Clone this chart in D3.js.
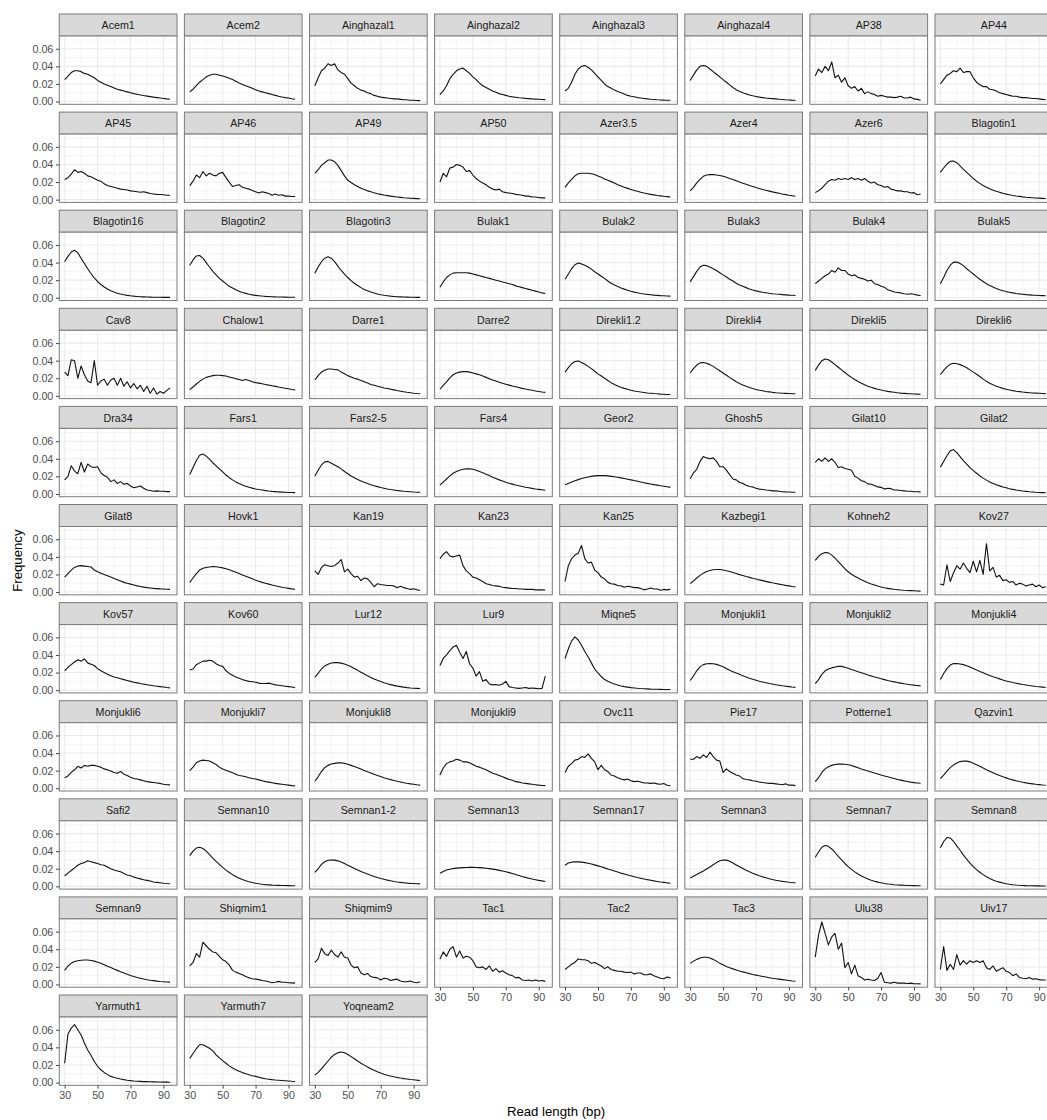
<!DOCTYPE html>
<html>
<head>
<meta charset="utf-8">
<script src="https://cdn.jsdelivr.net/npm/d3@7"></script>
<style>
  body { margin: 0; background: #fff; }
  svg { display: block; font-family: "Liberation Sans", Arial, Helvetica, sans-serif; }
</style>
</head>
<body>
<div id="chart"></div>
<script>

// ---- data ----
var samples = [
  "Acem1","Acem2","Ainghazal1","Ainghazal2","Ainghazal3","Ainghazal4","AP38","AP44",
  "AP45","AP46","AP49","AP50","Azer3.5","Azer4","Azer6","Blagotin1",
  "Blagotin16","Blagotin2","Blagotin3","Bulak1","Bulak2","Bulak3","Bulak4","Bulak5",
  "Cav8","Chalow1","Darre1","Darre2","Direkli1.2","Direkli4","Direkli5","Direkli6",
  "Dra34","Fars1","Fars2-5","Fars4","Geor2","Ghosh5","Gilat10","Gilat2",
  "Gilat8","Hovk1","Kan19","Kan23","Kan25","Kazbegi1","Kohneh2","Kov27",
  "Kov57","Kov60","Lur12","Lur9","Miqne5","Monjukli1","Monjukli2","Monjukli4",
  "Monjukli6","Monjukli7","Monjukli8","Monjukli9","Ovc11","Pie17","Potterne1","Qazvin1",
  "Safi2","Semnan10","Semnan1-2","Semnan13","Semnan17","Semnan3","Semnan7","Semnan8",
  "Semnan9","Shiqmim1","Shiqmim9","Tac1","Tac2","Tac3","Ulu38","Uiv17",
  "Yarmuth1","Yarmuth7","Yoqneam2"
];

// read lengths (bp) at which each frequency below is given
var readLengths = [30,32,34,36,38,40,42,44,46,48,50,52,54,56,58,60,62,64,66,68,70,72,74,76,78,80,82,84,86,88,90,92,94];
var readLengthSpan = [30, 95];

var xTicks = [30, 50, 70, 90];
var xMinor = [40, 60, 80];
var yTicks = [0, 0.02, 0.04, 0.06];
var yMinor = [0.01, 0.03, 0.05, 0.07];

// frequency in per mille, one row per sample (same order as samples)
var freq = [
  [25,29,33,35,35,34,32,31,29,27,24,22,20,18.5,17,15.5,14,13,12,11,10,9,8.3,7.5,6.8,6.2,5.6,5,4.5,4,3.5,3,2.6],
  [11,14,18,22,25,28,30,31,31,30,29,28,26.5,25,23,21,19.5,18,16.5,15,13.5,12,11,10,9,8,7,6,5.2,4.5,4,3.2,2.7],
  [18,27,35,38,43,41,43,36,33,31,26,21,18,15,13,12,10,9,7,6,5,4.5,4,3.5,3,3,2.5,2,2,1.5,1.5,1.2,1],
  [8,12,18,26,31,35,37,38,35,32,28,25,21,18,16,14,12,10.5,9,8,7,6,5.3,4.8,4.3,4,3.6,3.3,3,2.8,2.6,2.4,2.2],
  [12,15,22,31,37,40,41,39,36,32,28,24,20,17,15,13,11.5,10,8.5,7,6,5.5,4.5,4,3.5,3,2.6,2.3,2,1.8,1.6,1.5,1.4],
  [24,30,36,40,41,40,37,34,31,28,25,22,19,16,13.5,11.5,10,8.7,7.5,6.5,5.8,5,4.5,4,3.6,3.3,3,2.6,2.3,2,1.8,1.6,1.5],
  [29,37,33,40,35,45,27,30,22,27,18,15,17,12,15,9,11,9,8,6,7,6,5,5,4.5,5,6,4,4,5,3,2.5,1.5],
  [20,25,30,32,35,34,38,33,34,34,27,22,19,17,17,14,13.5,12,10,9,8,7,6,6,5,4.5,4.5,4,3.5,3.5,3,2.5,2],

  [23,25,29,34,31,32,30,27,26,24,22,21,18,16,15,14,13,12,11.5,11,10,9.5,9,8.5,9,8,7,6.5,6,5.8,5.5,5,5],
  [16,21,28,25,32,27,30,28,27,30,31,25,20,15,16,17,14,13,12,10.5,9,7.5,9,8,7,5,6.5,5,5.5,4,4,3.5,3.5],
  [30,34,39,42,45,45,43,39,33,27,22,19.5,17,15,13,11.5,10,9,7.8,6.8,6,5.2,4.6,4,3.4,3,2.6,2.2,1.9,1.6,1.4,1.2,1],
  [20,30,26,36,37,40,39,37,32,33,28,24,21,19,17,14,12,11,12,9,8,7.5,7,6,5.5,5,4,4,3,3,2.5,2,2],
  [14,19,23,27,29.5,30,30,30,29.5,28.5,27,25.5,23.5,22,20.5,19,17,15.5,14,12.8,11.5,10.5,9.5,8.5,7.6,6.8,6,5.4,4.8,4.3,3.8,3.4,3],
  [10,14,19,23,26.5,28,28.5,28.5,28,27.5,26.5,25.5,24,23,21.5,20,18.7,17.5,16,15,13.8,12.7,11.6,10.6,9.7,8.8,8,7.2,6.4,5.7,5,4.4,3.8],
  [8,10,13,17,21,23,22,24,23,24,23,25,23,24,22,24,21,19,20,17,16,14,15,12,11,10,10,9,9,7.5,8,5.5,6.5],
  [31,36,40.5,43.5,44,42,38.5,34.5,31,27.5,24,21,18.5,16,14,12.3,10.8,9.5,8.3,7.2,6.3,5.5,4.8,4.2,3.7,3.2,2.8,2.5,2.2,1.9,1.7,1.5,1.3],

  [41,47,52,54,51,45,39,33,27.5,22.5,18.5,15,12.3,10,8,6.5,5.2,4.2,3.4,2.7,2.2,1.8,1.5,1.2,1,0.8,0.7,0.6,0.5,0.5,0.4,0.4,0.4],
  [37,43,47.5,48,45,40,35,30,26,22,19,16,13,11,9,7.5,6,5,4,3.3,2.7,2.3,1.9,1.6,1.4,1.2,1,0.9,0.8,0.7,0.6,0.6,0.5],
  [28,35,41,45,46.5,45,41,36,31,27,23,19.5,16.5,14,11.5,9.5,8,6.5,5.3,4.3,3.5,2.8,2.3,1.8,1.5,1.2,1,0.8,0.7,0.6,0.5,0.4,0.4],
  [12,18,23,26,28,28.5,28.5,28.5,28.5,28,27,26,25,24,23,22,21,20,19,18,17,16,15,13.5,12.5,11.5,10.5,9.5,8.5,7.5,6.5,5.5,4.8],
  [21,27,33,37.5,39.5,38.5,37,35,32.5,29.5,27,24.5,22,19,16.5,14.5,12.8,11.2,9.8,8.5,7.4,6.4,5.6,4.9,4.3,3.8,3.4,3,2.7,2.4,2.2,2,1.9],
  [18,24,30,35,37,36.5,35,33,31,28.5,26,23.5,21,19,16.5,14.5,13,11.5,10,8.8,7.8,7,6.3,5.7,5.1,4.6,4.2,3.9,3.6,3.3,3,2.8,2.6],
  [16,19,22,25,27,31,29,34,31,31,27,25,26,23,22,21,19,20,16,15,13,12,9,8,6.5,6,5.5,4.5,4,4.5,4,3,2.6],
  [16,23,31,37,40.5,40.5,39,36.5,33,30,27,24,21,18.5,16,14,12.2,10.6,9.2,8,7,6.2,5.5,4.9,4.4,4,3.6,3.3,3,2.8,2.6,2.4,2.2],

  [27,23,41,40,20,34,24,17,15,40,12,17,19,12,18,20,12,20,11,16,9,14,8,12,5,11,3,9,2,5,3,6,9],
  [7,10,13.5,16.5,19,21,22,23,23.5,23.5,23,22.5,21.5,20.5,19.5,18.5,17.5,18.5,17.5,16,15,14.5,13.8,13,12.2,11.5,10.8,10,9.3,8.6,8,7.3,6.8],
  [18,23,27,29,30.5,30.5,30,29.5,27,25,23,21.5,20,19,17.5,16,14.5,13,12,11,10,9,8.3,7.6,6.8,6,5.3,4.6,4,3.5,3,2.6,2.3],
  [7.5,12,16,20.5,24,26,27,27.5,27.5,27,26,25,24,22.5,21,19.5,18,16.8,15.5,14.3,13.2,12.2,11.2,10.3,9.4,8.5,7.7,7,6.3,5.6,5,4.4,3.9],
  [27,32,36.5,39,39.5,38,36,33.5,31,28,25,22.5,20,17.5,15,13,11.3,9.8,8.5,7.4,6.4,5.6,4.9,4.3,3.8,3.3,3,2.6,2.3,2,1.8,1.6,1.5],
  [26,31,35,37.5,38,37,35.5,33.5,31,28.5,26,23.5,21,18.5,16,14,12.3,10.8,9.5,8.3,7.3,6.4,5.7,5,4.5,4,3.6,3.3,3,2.8,2.6,2.4,2.3],
  [29,35,40,42,41,38.5,35.5,32.5,29.5,26.5,23.5,21,18.5,16.3,14.3,12.5,11,9.7,8.5,7.5,6.6,5.8,5.1,4.5,4,3.5,3.1,2.8,2.5,2.3,2.1,2,1.9],
  [24,29,33,36,37,36.5,35.5,34,32,29.5,27,24.5,22,19,16.5,14.3,12.5,11,9.7,8.5,7.5,6.6,5.9,5.3,4.8,4.3,3.9,3.6,3.3,3.1,2.9,2.7,2.5],

  [16,20,32,26,23,36,25,34,31,30,31,24,21,19,14,16,12,14,11,12,9,7,8,9,6.5,4.5,4,3,3.5,3,3,2.6,2.6],
  [22,30,38,44,45.5,43,39.5,35.5,32,28.5,25,21.5,18.5,16,13.7,11.8,10.2,8.8,7.6,6.6,5.7,5,4.4,3.8,3.3,2.9,2.6,2.3,2.1,1.9,1.7,1.6,1.5],
  [20,27,33,36.5,37,35,33,31,28.5,25.5,23,20.5,18.5,16.5,14.8,13.2,11.8,10.5,9.3,8.3,7.3,6.5,5.7,5,4.5,4,3.5,3.1,2.8,2.5,2.2,2,1.9],
  [10,13.5,17,20.5,23.5,25.5,27,28,28.5,28.5,28,27,25.5,24,22.5,21,19,17.5,16,14.7,13.4,12.2,11.2,10.2,9.3,8.5,7.7,7,6.3,5.7,5.2,4.7,4.2],
  [10.5,12,13.5,15,16.3,17.5,18.5,19.3,20,20.5,20.8,21,20.8,20.5,20,19.5,19,18.3,17.6,16.8,16,15.2,14.4,13.6,12.8,12,11.3,10.6,10,9.3,8.7,8.1,7.5],
  [17,24,28,37,42.5,41,40,41,37,31,31,27,22,17,16,13,12,10,8.5,8,6.5,5.5,5,4.5,4.2,3.5,3.5,3,2.5,2.3,2.2,2,1.9],
  [36,40,37,41,37,40,36,30,31,29,28,27,20,18,15,14,11.5,11,9.5,8,7.5,5.5,6.5,6,4.5,4.5,4,3.5,3,3,2.5,2.5,2.3],
  [30.5,37,43.5,49,50.5,47,42.5,38,34,30,26.5,23.5,20.5,18,15.7,13.7,12,10.5,9.2,8,7,6,5.2,4.5,3.9,3.3,2.9,2.5,2.2,1.9,1.7,1.5,1.3],

  [17,21,25,28,29.5,30,29.5,29,28.5,25,23,21.5,20,18.5,17,15.5,14,12.5,11,10,9,8,7,6.3,5.6,5,4.6,4.2,3.9,3.6,3.4,3.2,3],
  [11,16,21,25,27,28,28.5,29,28.7,28.2,27.5,26.5,25.3,24,22.5,21,19.5,18,16.5,15,13.5,12.2,11,10,9,8,7.1,6.3,5.5,4.8,4.2,3.6,3.1],
  [24,20,28,31,30,29,30,33,37,23,26,21,17,18,13,16,15,11,6,9.5,8.5,8,7.5,7.5,7,5,6.5,5,4,3,3.8,2.5,2],
  [38,43,46,41,40,41,42,30,24,21,17,16,14,12,9.5,8.5,7.5,7,6.5,5.5,5,4.5,4,4,3.5,3.5,3,3,3,2.5,2.5,2.5,2.3],
  [12,30,38,42,44,53,38,33,34,25,22,17,15,11,9.5,9,7.5,7,5.5,6.5,6,5,5,4,2.5,3.5,4.5,3.5,3.5,2,3,2.5,3],
  [9.5,12.5,16,19,21.5,23.3,24.5,25.3,25.7,25.6,25,24.2,23.3,22.2,21,19.8,18.8,17.7,16.7,15.7,14.8,13.8,13,12.1,11.3,10.5,9.8,9,8.3,7.6,7,6.3,5.7],
  [36,40.5,43.5,45,44.5,42,38.5,34.5,30.5,26.5,23,20.3,18,16,14,12.3,10.7,9.2,8,6.8,5.8,4.9,4.2,3.6,3.1,2.7,2.3,2,1.8,1.6,1.4,1.2,1.1],
  [9,8,31,12,22,30,26,33,27,22,35,23,36,20,55,24,28,17,19,13,14,11,12,8,10,9,7,8,9,6,8,5,6],

  [22,26,29,32,34.5,33,35.5,31,29.5,28,24.5,22,20,18,16.5,15,14,13,12,11,10,9,8.3,7.5,6.8,6.2,5.6,5,4.5,4,3.5,3,2.6],
  [23,24,29,31,33,33,34,33,30,28,27,22,19,17,15,13.5,12,11,10,9.5,9,8,7.5,7.5,8,7,6,5.5,5,4.5,4,3.5,2.7],
  [14.5,19,24,27.5,29.5,30.8,31.3,31.3,30.7,29.7,28.3,26.5,24.5,22.5,20.3,18.3,16.3,14.5,12.8,11.2,9.8,8.5,7.3,6.3,5.4,4.6,4,3.4,2.9,2.5,2.2,2,1.8],
  [28,36,40,45,49,51,43,36,44,30,25,16,21,10,12,7,6,6.5,5.5,7,10,4,3,2.5,2,2.5,3,2,2.5,2,1.5,2,16],
  [36,47,56,60.5,57,51,44,38,31,24,19.5,15.5,12,10,8.3,6.9,5.8,4.8,4,3.4,2.9,2.5,2.1,1.8,1.6,1.4,1.2,1.1,1,0.9,0.8,0.8,0.7],
  [11,16,22,26.5,29,30,30.2,30,29.3,28,26.5,24.5,22.5,21,19.5,18,16.5,15,13.6,12.3,11.2,10.1,9.2,8.4,7.6,6.9,6.2,5.6,5,4.5,4,3.5,3.1],
  [7.5,12,18,22,24,25.3,26.3,27,27,26,24.8,23.5,22.3,21,19.8,18.6,17.3,16.2,15,14,13,12,11,10.2,9.4,8.6,8,7.3,6.7,6.2,5.7,5.3,4.9],
  [12,19,24.5,28.5,30.2,30.3,29.8,29,27.8,26.2,24.5,22.8,21.2,19.7,18.2,16.7,15.2,14,12.8,11.6,10.5,9.6,8.7,7.9,7.1,6.4,5.8,5.2,4.7,4.2,3.8,3.4,3],

  [12,14,18,21,25,23,26,25,26,26,25,24,22,21,19.5,18,17,19,16,14.5,12.5,11,10.5,9.5,8.5,7.5,7,6.5,6,5.5,4.5,4,3.8],
  [20,24,29,31,32,31.5,31,29,27,24,22,20.5,19,17.5,16,14.5,14,13,12,11,10.5,9.5,8.5,7.5,7,6.3,5.5,5,4.5,4,3.5,3,2.7],
  [8,13,19,23.5,26,27.5,28.3,28.8,29,28.3,27.3,26,24.7,23.3,21.8,20.3,18.8,17.4,16,14.6,13.3,12,10.9,9.8,8.8,7.9,7.1,6.3,5.6,5,4.5,4,3.6],
  [15,23,28,30,31,33,32,30,30,29,27,25,24,22.5,21,19,17,16,14.5,13,11.5,10,9,7.5,7,6,5.5,5,4.5,4,3.5,3.2,3],
  [18,25,28,32,33,36,35,39,34,30,21,26,21,19,15,14,12,10.5,9.5,10.5,8.5,7.5,8,7,6,6,5.5,6,5,4.5,5.5,3.5,2.8],
  [33,33,36,34,38,35,41,36,32,31,18,22,19,17,15,14,11,10,9.5,8.5,8,7,6.5,6,5.5,5.5,5,4.5,4,5,3.5,3.5,3],
  [7.5,12,18,22,24.5,26,27,27.4,27.5,27.3,26.8,25.8,24.6,23.3,22,20.8,19.6,18.5,17.3,16.2,15,14,13,12,11,10,9.2,8.4,7.7,7,6.4,6,5.6],
  [11,15,19.5,23.5,26.5,28.8,30.3,31,30.8,30,28.5,26.8,25,23,21,19.2,17.5,15.9,14.4,13,11.8,10.6,9.5,8.5,7.6,6.8,6.1,5.5,5,4.5,4.1,3.7,3.4],

  [12,15,18,21,24,26,27,29,28,27,26,24.5,24,22,20,18.5,17.5,16.5,14.5,13,12,10.5,9.5,8.5,7.5,6.8,6,5,4.5,4,3.5,3.2,3],
  [35,40,43.5,44.5,43,40,36,32,28.5,25,21.5,18.5,15.8,13.3,11.2,9.3,7.7,6.4,5.2,4.3,3.5,2.9,2.4,2,1.7,1.4,1.2,1.1,1,0.9,0.8,0.7,0.7],
  [16,20,25,28,29.7,30,29.8,29,27.7,26,24,22.2,20.4,18.7,17,15.4,14,12.6,11.3,10.1,9,8,7.1,6.3,5.6,5,4.5,4.1,3.7,3.4,3.2,3,2.8],
  [15,17,18.5,19.5,20.2,20.7,21,21.3,21.5,21.6,21.6,21.5,21.3,21,20.6,20.2,19.6,19,18.2,17.4,16.5,15.6,14.5,13.4,12.3,11.2,10.2,9.3,8.4,7.6,6.8,6.2,5.6],
  [24,26.5,27.5,27.8,27.8,27.5,27,26.3,25.4,24.4,23.3,22.2,21,19.8,18.6,17.4,16.2,15,14,13,12,11,10,9.2,8.4,7.6,6.9,6.2,5.6,5,4.5,4,3.6],
  [9.5,11.5,13.5,15.5,17.5,19.7,22,24.5,27,29,30,29.8,28.5,26.5,24.3,22.2,20.2,18.3,16.6,15,13.5,12,10.8,9.7,8.7,7.8,7,6.3,5.7,5.2,4.7,4.3,4],
  [33,39,44.5,46.5,45.5,42.5,38.5,34,30,26,22.5,19.3,16.5,14,11.8,10,8.4,7,5.8,4.8,4,3.3,2.7,2.3,1.9,1.6,1.4,1.2,1,0.9,0.8,0.7,0.6],
  [44,51,55.5,55,51,46,41,35.5,31,26.5,22.5,19,16,13.3,11,9,7.3,5.9,4.8,3.8,3,2.4,1.9,1.5,1.2,1,0.8,0.7,0.6,0.5,0.5,0.4,0.4],

  [16,21,24,26,27,27.5,27.8,27.8,27.3,26.5,25.3,24,22.5,20.8,19.2,17.5,16,14.4,13,11.5,10.2,9,7.9,7,6.1,5.4,4.8,4.3,3.8,3.4,3.1,2.8,2.6],
  [21,25,35,31,48,44,40,37,36,32,28,26,22,16,14,12.5,11,9,7.5,6.5,6,5.5,4.5,4,3,2,2.5,3.5,2.5,2.5,2,1.8,1.5],
  [25,29,41,35,33,39,34,31,37,31,30,22,19,20,13,11,12.5,9,8,7.5,5,7,6.5,4.5,5.5,6,4,3,3,4,2.5,2,3],
  [29,37,32,40,43,31,38,30,32,31,27,20,19,20,17,21,15,18,14,15.5,13,11,10,7.5,8,5,4.5,5,4,5,4,4.5,3.5],
  [17,20,23,25,29,28,28,27,24,25,23,21,18,20,17,16,15,15,14,13.5,14,12,13,13,11,11,12,10,8.5,7,6.5,8.5,7.5],
  [24,26.5,28.5,30,31,31,30,28.5,26.5,24,22.3,20.5,19,17.7,16.5,15.3,14.3,13.3,12.3,11.4,10.6,9.8,9.1,8.4,7.7,7,6.5,6,5.5,5,4.5,4,3.7],
  [31,56,71,58,45,54,58,40,47,19,25,12,22,10,8,5,6,5,4.5,7,13.5,2.5,2,1.5,2.5,1.5,1.5,1.5,1,1.5,0.8,0.8,0.7],
  [17,43,16,23,17,34,22,27,23,27,25,27,25,27,19,17,21,15,17,19,15,13.5,10,12,8,7,6.5,8,6,6.5,5.5,5,5],

  [22,55,62,66,60,54,45,37,31,24,18.5,14.5,11.5,9,7,5.8,4.8,4,3.3,2.7,2.2,1.8,1.5,1.3,1.1,1,0.9,0.8,0.7,0.6,0.5,0.5,0.4],
  [27.5,33,38.5,43,43,41,39,36,31.5,28,25,22,19,16.5,14.5,12.8,11.3,10,8.8,7.8,7,6,5,4.3,3.8,3.3,2.9,2.6,2.3,2,1.7,1.4,1.2],
  [8.5,11.5,15.5,20,24.5,28.8,32,34,34.7,33.8,31.8,29.5,27,24.5,22,19.8,17.7,15.7,13.9,12.3,10.8,9.5,8.4,7.4,6.5,5.8,5.1,4.5,4,3.5,3.1,2.7,2.4]
];


// ---- layout ----
var width = 1047, height = 1120;
var margin = { top: 14, left: 59.3 };
var nCol = 8;
var colStep = 125.1, rowStep = 98.1;
var panelW = 117.7, stripH = 22, panelH = 68.3;
var nRow = Math.ceil(samples.length / nCol);
var borderColor = "#7a7a7a";

var svg = d3.select("#chart").append("svg")
    .attr("width", width)
    .attr("height", height);

// Scales, shared by every facet (ggplot style 5% expansion)
var xPad = (readLengthSpan[1] - readLengthSpan[0]) * 0.05;
var x = d3.scaleLinear()
    .domain([readLengthSpan[0] - xPad, readLengthSpan[1] + xPad])
    .range([0, panelW]);

var allFreq = d3.merge(freq).map(function(v) { return v / 1000; });
var yExt = d3.extent(allFreq);
var yPad = (yExt[1] - yExt[0]) * 0.05;
var y = d3.scaleLinear()
    .domain([yExt[0] - yPad, yExt[1] + yPad])
    .range([panelH, 0]);

var xAxis = d3.axisBottom(x)
    .tickValues(xTicks)
    .tickSize(3.3)
    .tickPadding(3.2);

var yAxis = d3.axisLeft(y)
    .tickValues(yTicks)
    .tickFormat(d3.format(".2f"))
    .tickSize(3.3)
    .tickPadding(2.7);

var line = d3.line()
    .x(function(d) { return x(d.len); })
    .y(function(d) { return y(d.freq); });

function styleAxis(g) {
  g.select(".domain").remove();
  g.selectAll(".tick line").attr("stroke", "#444").attr("stroke-width", 1);
  g.selectAll(".tick text")
      .attr("fill", "#4d4d4d")
      .style("font-size", "10.7px");
}

samples.forEach(function(name, i) {
  var col = i % nCol,
      row = Math.floor(i / nCol);

  var g = svg.append("g")
      .attr("transform", "translate(" + (margin.left + col * colStep) + "," + (margin.top + row * rowStep) + ")");

  // strip
  g.append("rect")
      .attr("width", panelW)
      .attr("height", stripH)
      .attr("fill", "#d9d9d9")
      .attr("stroke", borderColor)
      .attr("stroke-width", 1);

  g.append("text")
      .attr("x", panelW / 2)
      .attr("y", stripH / 2 + 0.5)
      .attr("dy", "0.35em")
      .attr("text-anchor", "middle")
      .attr("fill", "#1a1a1a")
      .style("font-size", "10.7px")
      .text(name);

  var p = g.append("g")
      .attr("transform", "translate(0," + stripH + ")");

  p.append("rect")
      .attr("width", panelW)
      .attr("height", panelH)
      .attr("fill", "#fff");

  // grid lines
  p.selectAll(".gx-minor").data(xMinor).enter().append("line")
      .attr("x1", x).attr("x2", x)
      .attr("y1", 0).attr("y2", panelH)
      .attr("stroke", "#ebebeb").attr("stroke-width", 0.55);
  p.selectAll(".gy-minor").data(yMinor).enter().append("line")
      .attr("x1", 0).attr("x2", panelW)
      .attr("y1", y).attr("y2", y)
      .attr("stroke", "#ebebeb").attr("stroke-width", 0.55);
  p.selectAll(".gx").data(xTicks).enter().append("line")
      .attr("x1", x).attr("x2", x)
      .attr("y1", 0).attr("y2", panelH)
      .attr("stroke", "#ebebeb").attr("stroke-width", 1.1);
  p.selectAll(".gy").data(yTicks).enter().append("line")
      .attr("x1", 0).attr("x2", panelW)
      .attr("y1", y).attr("y2", y)
      .attr("stroke", "#ebebeb").attr("stroke-width", 1.1);

  var series = readLengths.map(function(len, j) {
    return { len: len, freq: freq[i][j] / 1000 };
  });

  p.append("path")
      .datum(series)
      .attr("d", line)
      .attr("fill", "none")
      .attr("stroke", "#111")
      .attr("stroke-width", 1.1)
      .attr("stroke-linejoin", "round");

  p.append("rect")
      .attr("width", panelW)
      .attr("height", panelH)
      .attr("fill", "none")
      .attr("stroke", borderColor)
      .attr("stroke-width", 1);

  if (col === 0) {
    p.append("g").call(yAxis).call(styleAxis);
  }
  // x axis under the lowest panel of each column
  if (i + nCol >= samples.length) {
    p.append("g")
        .attr("transform", "translate(0," + panelH + ")")
        .call(xAxis)
        .call(styleAxis);
  }
});

// Axis titles
var panelsTop = margin.top + stripH,
    panelsBottom = margin.top + (nRow - 1) * rowStep + stripH + panelH;

svg.append("text")
    .attr("x", margin.left + ((nCol - 1) * colStep + panelW) / 2)
    .attr("y", 1116)
    .attr("text-anchor", "middle")
    .attr("fill", "#000")
    .style("font-size", "13.2px")
    .text("Read length (bp)");

svg.append("text")
    .attr("transform", "translate(17.5," + ((panelsTop + panelsBottom) / 2) + ") rotate(-90)")
    .attr("dy", "0.35em")
    .attr("text-anchor", "middle")
    .attr("fill", "#000")
    .style("font-size", "13.2px")
    .text("Frequency");

</script>
</body>
</html>
